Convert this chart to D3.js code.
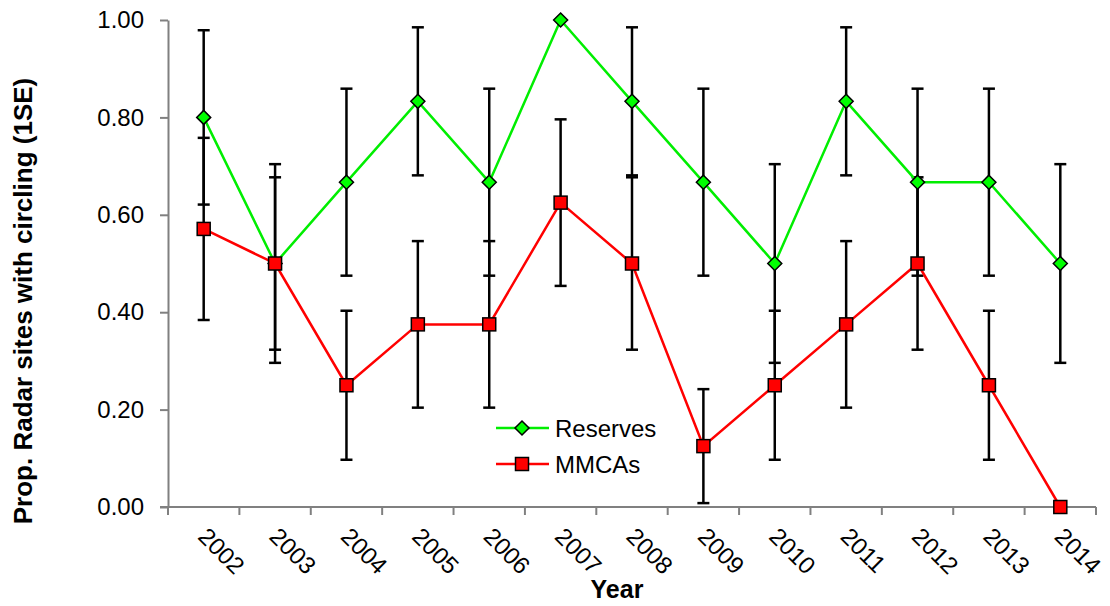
<!DOCTYPE html>
<html>
<head>
<script src="https://d3js.org/d3.v7.min.js"></script>
<meta charset="utf-8">
<style>
body {
  margin: 0;
  background: white;
  font-family: Arial, "Liberation Sans", sans-serif;
}
</style>
</head>
<body>
<div class="chart"></div>

<script>

// values
var years = ["2002","2003","2004","2005","2006","2007","2008","2009","2010","2011","2012","2013","2014"];
var reserves   = [0.800, 0.500, 0.667, 0.833, 0.667, 1.000, 0.833, 0.667, 0.500, 0.833, 0.667, 0.667, 0.500];
var reservesSE = [0.179, 0.204, 0.192, 0.152, 0.192, 0.000, 0.152, 0.192, 0.204, 0.152, 0.192, 0.192, 0.204];
var mmcas      = [0.571, 0.500, 0.250, 0.375, 0.375, 0.625, 0.500, 0.125, 0.250, 0.375, 0.500, 0.250, 0.000];
var mmcasSE    = [0.187, 0.177, 0.153, 0.171, 0.171, 0.171, 0.177, 0.117, 0.153, 0.171, 0.177, 0.153, 0.000];
var yTicks = [0, 0.2, 0.4, 0.6, 0.8, 1.0];

var width = 1110,
    height = 606,
    plotLeft = 168, plotRight = 1096,
    plotTop = 20, plotBottom = 507;

var svg = d3.select(".chart")
  .append("svg")
  .attr("width", width)
  .attr("height", height);

var x = d3.scaleBand().domain(years).range([plotLeft, plotRight]).padding(0);
var y = d3.scaleLinear().domain([0, 1]).range([plotBottom, plotTop]);
var cx = function(d) { return x(d) + x.bandwidth() / 2; };

// y axis
var yAxis = svg.append("g")
  .attr("transform", "translate(" + plotLeft + ",0)")
  .call(d3.axisLeft(y).tickValues(yTicks).tickFormat(d3.format(".2f")).tickSize(8).tickPadding(16).tickSizeOuter(0));
yAxis.select(".domain").attr("stroke", "#808080").attr("stroke-width", 2);
yAxis.selectAll(".tick line").attr("stroke", "#808080").attr("stroke-width", 2);
yAxis.selectAll(".tick text")
  .attr("fill", "black")
  .style("font-size", "24px")
  .style("font-family", "Arial, 'Liberation Sans', sans-serif");

// x axis (ticks between categories)
svg.append("line")
  .attr("x1", plotLeft - 8).attr("x2", plotRight)
  .attr("y1", plotBottom).attr("y2", plotBottom)
  .attr("stroke", "#808080").attr("stroke-width", 2);
svg.selectAll(".xtick")
  .data(years.concat(["end"]))
  .enter().append("line")
  .attr("class", "xtick")
  .attr("x1", function(d) { return d == "end" ? plotRight : x(d); })
  .attr("x2", function(d) { return d == "end" ? plotRight : x(d); })
  .attr("y1", plotBottom).attr("y2", plotBottom + 8)
  .attr("stroke", "#808080").attr("stroke-width", 2);

svg.selectAll(".xlabel")
  .data(years)
  .enter().append("text")
  .attr("class", "xlabel")
  .attr("transform", function(d) { return "translate(" + (cx(d) - 7) + ",538) rotate(45)"; })
  .style("font-size", "24px")
  .text(function(d) { return d; });

// axis titles
svg.append("text")
  .attr("x", 617).attr("y", 598)
  .attr("text-anchor", "middle")
  .style("font-size", "25px")
  .style("font-weight", "bold")
  .text("Year");

svg.append("text")
  .attr("transform", "translate(32,301) rotate(-90)")
  .attr("text-anchor", "middle")
  .style("font-size", "26px")
  .style("font-weight", "bold")
  .text("Prop. Radar sites with circling (1SE)");

// error bars
function errorBars(vals, se, cls) {
  var idx = d3.range(years.length).filter(function(i) { return se[i] > 0; });
  var g = svg.append("g").attr("stroke", "black").attr("stroke-width", 2.5);
  g.selectAll("." + cls + "v").data(idx).enter().append("line")
    .attr("x1", function(i) { return cx(years[i]); })
    .attr("x2", function(i) { return cx(years[i]); })
    .attr("y1", function(i) { return y(vals[i] + se[i]); })
    .attr("y2", function(i) { return y(vals[i] - se[i]); });
  [1, -1].forEach(function(s) {
    g.selectAll("." + cls + "c" + s).data(idx).enter().append("line")
      .attr("x1", function(i) { return cx(years[i]) - 6; })
      .attr("x2", function(i) { return cx(years[i]) + 6; })
      .attr("y1", function(i) { return y(vals[i] + s * se[i]); })
      .attr("y2", function(i) { return y(vals[i] + s * se[i]); });
  });
}
errorBars(reserves, reservesSE, "r");
errorBars(mmcas, mmcasSE, "m");

// lines
var line = d3.line()
  .x(function(d, i) { return cx(years[i]); })
  .y(function(d) { return y(d); });

svg.append("path").datum(reserves)
  .attr("d", line).attr("fill", "none")
  .attr("stroke", "#00ee00").attr("stroke-width", 2.5);
svg.append("path").datum(mmcas)
  .attr("d", line).attr("fill", "none")
  .attr("stroke", "#ff0000").attr("stroke-width", 2.5);

// markers
var diamond = "M0,-7L7,0L0,7L-7,0Z";
svg.selectAll(".dia").data(reserves).enter().append("path")
  .attr("class", "dia")
  .attr("d", diamond)
  .attr("transform", function(d, i) { return "translate(" + cx(years[i]) + "," + y(d) + ")"; })
  .attr("fill", "#00ff00").attr("stroke", "black").attr("stroke-width", 1.5);
svg.selectAll(".sq").data(mmcas).enter().append("rect")
  .attr("class", "sq")
  .attr("x", function(d, i) { return cx(years[i]) - 6.5; })
  .attr("y", function(d) { return y(d) - 6.5; })
  .attr("width", 13).attr("height", 13)
  .attr("fill", "#ff0000").attr("stroke", "black").attr("stroke-width", 1.5);

// legend
var legend = [
  {name: "Reserves", color: "#00ee00", y: 428},
  {name: "MMCAs", color: "#ff0000", y: 464}
];
var lg = svg.selectAll(".legend").data(legend).enter().append("g")
  .attr("transform", function(d) { return "translate(0," + d.y + ")"; });
lg.append("line")
  .attr("x1", 496).attr("x2", 549)
  .attr("stroke", function(d) { return d.color; }).attr("stroke-width", 2.5);
lg.filter(function(d) { return d.name == "Reserves"; }).append("path")
  .attr("d", diamond).attr("transform", "translate(522,0)")
  .attr("fill", "#00ff00").attr("stroke", "black").attr("stroke-width", 1.5);
lg.filter(function(d) { return d.name == "MMCAs"; }).append("rect")
  .attr("x", 515.5).attr("y", -6.5).attr("width", 13).attr("height", 13)
  .attr("fill", "#ff0000").attr("stroke", "black").attr("stroke-width", 1.5);
lg.append("text")
  .attr("x", 555).attr("y", 9)
  .style("font-size", "24px")
  .text(function(d) { return d.name; });

</script>
</body>
</html>
